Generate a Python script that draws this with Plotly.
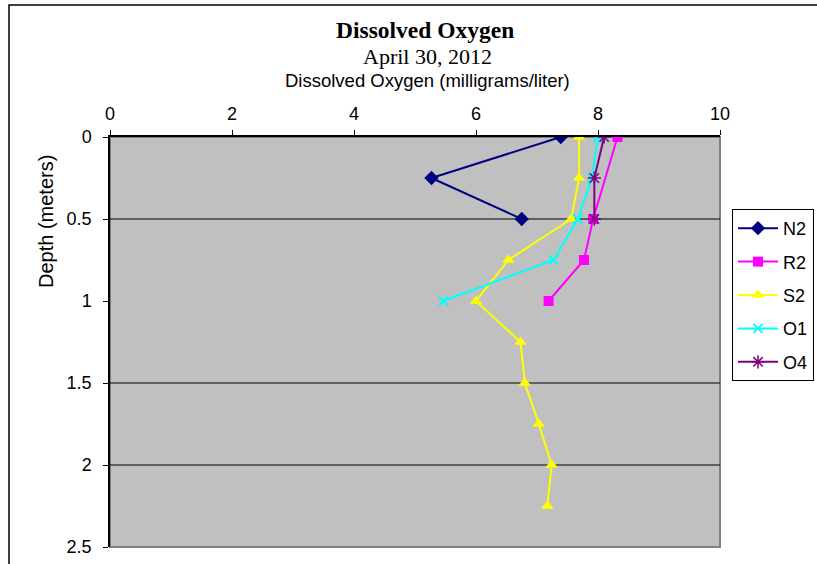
import plotly.graph_objects as go

# ---- data ----
n2_do = [7.39, 5.27, 6.75]
n2_depth = [0.0, 0.25, 0.5]

r2_do = [8.32, 7.92, 7.77, 7.19]
r2_depth = [0.0, 0.5, 0.75, 1.0]

s2_do = [7.69, 7.69, 7.56, 6.53, 6.00, 6.73, 6.80, 7.03, 7.24, 7.17]
s2_depth = [0.0, 0.25, 0.5, 0.75, 1.0, 1.25, 1.5, 1.75, 2.0, 2.25]

o1_do = [8.00, 7.90, 7.67, 7.27, 5.46]
o1_depth = [0.0, 0.25, 0.5, 0.75, 1.0]

o4_do = [8.10, 7.94, 7.94]
o4_depth = [0.0, 0.25, 0.5]

x_ticks = [0, 2, 4, 6, 8, 10]
y_ticks = [0, 0.5, 1, 1.5, 2, 2.5]
grid_depths = [0.5, 1.5, 2.0]

title_main = "Dissolved Oxygen"
title_date = "April 30, 2012"
x_title = "Dissolved Oxygen (milligrams/liter)"
y_title = "Depth (meters)"

series = [
    ("N2", n2_do, n2_depth, "#000080", dict(symbol="diamond", size=11)),
    ("R2", r2_do, r2_depth, "#FF00FF", dict(symbol="square", size=10)),
    ("S2", s2_do, s2_depth, "#FFFF00", dict(symbol="triangle-up", size=11)),
    ("O1", o1_do, o1_depth, "#00FFFF", dict(symbol="x-thin-open", size=9, line=dict(width=2, color="#00FFFF"))),
    ("O4", o4_do, o4_depth, "#800080", dict(symbol="asterisk-open", size=11, line=dict(width=1.5, color="#800080"))),
]

fig = go.Figure()
for name, xs, ys, color, mk in series:
    marker = dict(color=color, **mk)
    fig.add_trace(go.Scatter(
        x=xs, y=ys, name=name, mode="lines+markers",
        line=dict(color=color, width=2),
        marker=marker, legendgroup=name,
    ))

L, R, T, B = 110, 97, 137, 17
W, H = 817, 564
pw, ph = W - L - R, H - T - B

def px_x(p):
    return (p - L) / pw

def px_y(p):
    return (H - B - p) / ph

shapes = []
shapes.append(dict(type="rect", xref="paper", yref="paper", x0=0, x1=1, y0=0, y1=1,
                   line=dict(color="#808080", width=2), layer="below"))
for d in grid_depths:
    shapes.append(dict(type="line", xref="paper", yref="y", x0=0, x1=1, y0=d, y1=d,
                       line=dict(color="black", width=1), layer="below"))
shapes.append(dict(type="rect", xref="paper", yref="paper",
                   x0=px_x(9), x1=px_x(840), y0=px_y(590), y1=px_y(5),
                   line=dict(color="black", width=1.5), layer="below"))

ann_common = dict(xref="paper", yref="paper", showarrow=False,
                  xanchor="center", yanchor="middle")
annotations = [
    dict(text="<b>" + title_main + "</b>", x=px_x(425), y=px_y(30),
         font=dict(family="Liberation Serif", size=23.5, color="black"), **ann_common),
    dict(text=title_date, x=px_x(427), y=px_y(56),
         font=dict(family="Liberation Serif", size=22, color="black"), **ann_common),
    dict(text=x_title, x=px_x(427), y=px_y(80),
         font=dict(family="Liberation Sans", size=18.5, color="black"), **ann_common),
    dict(text=y_title, textangle=-90, x=px_x(46), y=px_y(222),
         font=dict(family="Liberation Sans", size=20, color="black"), **ann_common),
]

fig.update_layout(
    width=W, height=H,
    margin=dict(l=L, r=R, t=T, b=B, autoexpand=False),
    paper_bgcolor="white",
    plot_bgcolor="#C0C0C0",
    font=dict(family="Liberation Sans", size=18, color="black"),
    showlegend=True,
    legend=dict(x=px_x(732), y=px_y(209), xanchor="left", yanchor="top",
                bgcolor="white", bordercolor="black", borderwidth=1,
                font=dict(size=18), tracegroupgap=7, itemwidth=40),
    shapes=shapes,
    annotations=annotations,
)
fig.update_xaxes(range=[0, 10], side="top", tickvals=x_ticks, showgrid=False,
                 zeroline=False, showline=True, linecolor="black", linewidth=1.5,
                 ticks="outside", ticklen=5, tickcolor="black", automargin=False,
                 ticklabelstandoff=3)
fig.update_yaxes(range=[2.5, 0], tickvals=y_ticks, showgrid=False, zeroline=False,
                 showline=True, linecolor="black", linewidth=1.5,
                 ticks="outside", ticklen=5, tickcolor="black", automargin=False,
                 ticklabelstandoff=8)

fig.write_html("out.html", config={"displayModeBar": False},
               post_script="document.body.style.margin='0px';document.body.style.overflow='hidden';")
